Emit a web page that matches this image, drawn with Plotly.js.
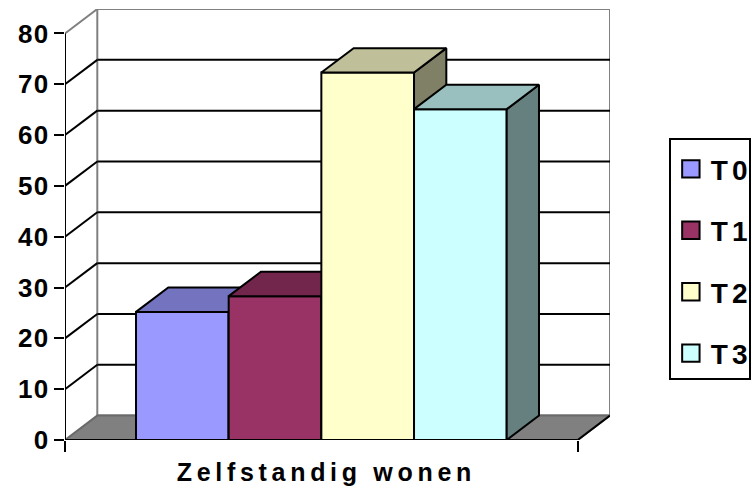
<!DOCTYPE html>
<html><head><meta charset="utf-8">
<script src="https://cdn.plot.ly/plotly-3.0.1.min.js"></script>
<style>
html,body{margin:0;padding:0;background:#fff}
#chart{width:751px;height:501px}
.legend .legendpoints path{transform-box:fill-box;transform-origin:center;transform:translate(20px,0) scale(1.45);vector-effect:non-scaling-stroke}
.legend text.legendtext{letter-spacing:4px}
.xtick text{letter-spacing:4.7px}
.ytick text{letter-spacing:1.5px}
</style></head><body><div id="chart"></div>
<script>
// ---- data ----
const categories = ['Zelfstandig wonen'];
const seriesNames = ['T0', 'T1', 'T2', 'T3'];
const values = [25.2, 28.3, 72.3, 65.1];
const yTickVals = [0, 10, 20, 30, 40, 50, 60, 70, 80];
const frontColors = ['#9999FF', '#993366', '#FFFFCC', '#CCFFFF'];
const topColors = ['#7373BF', '#73264C', '#BFBF99', '#99BFBF'];
const sideColors = ['#4D4D80', '#4D1A33', '#808066', '#668080'];

// ---- 3D geometry (in axis units) ----
const DX = 0.063, DY = 4.8;
const GROUP = 0.723, BW = GROUP / seriesNames.length;
const XR = [-0.5, 0.5 + DX], YMAX = yTickVals[yTickVals.length - 1];
const YR = [0, YMAX + DY];
const FONT = 'Liberation Sans, Arial, sans-serif';

const traces = [];
seriesNames.forEach((name, i) => {
  const xa = i === 0 ? 'x' : 'x' + (i + 1);
  const ya = i === 0 ? 'y' : 'y' + (i + 1);
  const x0 = -GROUP / 2 + i * BW, x1 = x0 + BW, v = values[i];
  traces.push({
    type: 'bar', name: name, legendgroup: name,
    x: [0], y: [v], width: [BW], offset: [x0],
    marker: {color: frontColors[i], line: {color: '#000', width: 2}},
    xaxis: xa, yaxis: ya, hoverinfo: 'name+y'
  });
  traces.push({
    type: 'scatter', mode: 'lines', showlegend: false, hoverinfo: 'skip',
    x: [x1, x1 + DX, x1 + DX, x1, x1], y: [v, v + DY, DY, 0, v],
    fill: 'toself', fillcolor: sideColors[i], line: {color: '#000', width: 2},
    xaxis: xa, yaxis: ya
  });
  traces.push({
    type: 'scatter', mode: 'lines', showlegend: false, hoverinfo: 'skip',
    x: [x0, x1, x1 + DX, x0 + DX, x0], y: [v, v, v + DY, v + DY, v],
    fill: 'toself', fillcolor: topColors[i], line: {color: '#000', width: 2},
    xaxis: xa, yaxis: ya
  });
});

const shapes = [];
// back wall
shapes.push({type: 'rect', xref: 'x', yref: 'y', layer: 'below',
  x0: XR[0] + DX, x1: XR[1], y0: DY, y1: YMAX + DY,
  fillcolor: '#fff', line: {color: '#808080', width: 2}});
// floor
shapes.push({type: 'path', xref: 'x', yref: 'y', layer: 'below',
  path: `M${XR[0]},0 L0.5,0 L${0.5 + DX},${DY} L${XR[0] + DX},${DY} Z`,
  fillcolor: '#808080', line: {color: '#6a6a6a', width: 2}});
shapes.push({type: 'line', xref: 'x', yref: 'y', layer: 'below',
  x0: 0.5, y0: 0, x1: 0.5 + DX, y1: DY, line: {color: '#000', width: 2}});
// top diagonal of side wall
shapes.push({type: 'line', xref: 'x', yref: 'y', layer: 'below',
  x0: XR[0], y0: YMAX, x1: XR[0] + DX, y1: YMAX + DY, line: {color: '#808080', width: 2}});
// gridlines
yTickVals.filter(v => v > 0 && v < YMAX).forEach(v => {
  shapes.push({type: 'line', xref: 'x', yref: 'y', layer: 'below',
    x0: XR[0], y0: v, x1: XR[0] + DX, y1: v + DY, line: {color: '#000', width: 2}});
  shapes.push({type: 'line', xref: 'x', yref: 'y', layer: 'below',
    x0: XR[0] + DX, y0: v + DY, x1: XR[1], y1: v + DY, line: {color: '#000', width: 2}});
});
// axis lines
shapes.push({type: 'line', xref: 'x', yref: 'y', layer: 'above',
  x0: XR[0], y0: 0, x1: XR[0], y1: YMAX, line: {color: '#000', width: 2}});
shapes.push({type: 'line', xref: 'x', yref: 'y', layer: 'above',
  x0: XR[0], y0: 0, x1: 0.5, y1: 0, line: {color: '#000', width: 2}});

const hidden = {range: XR, visible: false, fixedrange: true};
const layout = {
  width: 751, height: 501,
  margin: {l: 65, r: 141, t: 9, b: 61, pad: 0, autoexpand: false},
  paper_bgcolor: '#fff', plot_bgcolor: 'rgba(0,0,0,0)',
  font: {family: FONT, color: '#000'},
  showlegend: true,
  legend: {
    x: 1.108, xanchor: 'left', y: 0.70, yanchor: 'top',
    bgcolor: '#fff', bordercolor: '#000', borderwidth: 2,
    font: {family: FONT, size: 28, weight: 700, color: '#000'},
    title: {text: ' ', font: {size: 3}},
    traceorder: 'grouped', tracegroupgap: 22
  },
  xaxis: {
    range: XR, showgrid: false, zeroline: false, showline: false,
    tickvals: [0], ticktext: categories, ticks: '', ticklabelstandoff: 15,
    ticklabelshift: 5,
    tickfont: {family: FONT, size: 25, weight: 700, color: '#000'}
  },
  xaxis2: {range: XR, overlaying: 'x', anchor: 'y2', side: 'bottom',
    showgrid: false, zeroline: false, showline: false,
    tickvals: [-0.5, 0.5], ticks: 'outside', ticklen: 11, tickwidth: 2,
    tickcolor: '#000', showticklabels: false},
  xaxis3: Object.assign({overlaying: 'x', anchor: 'y3'}, hidden),
  xaxis4: Object.assign({overlaying: 'x', anchor: 'y4'}, hidden),
  yaxis: {
    range: YR, showgrid: false, zeroline: false, showline: false,
    tickvals: yTickVals, ticks: 'outside', ticklen: 10, tickwidth: 2, tickcolor: '#000',
    ticklabelstandoff: -1,
    tickfont: {family: FONT, size: 26, weight: 700, color: '#000'}
  },
  yaxis2: {range: YR, overlaying: 'y', anchor: 'x2', visible: false},
  yaxis3: {range: YR, overlaying: 'y', anchor: 'x3', visible: false},
  yaxis4: {range: YR, overlaying: 'y', anchor: 'x4', visible: false},
  shapes: shapes
};
Plotly.newPlot('chart', traces, layout, {displayModeBar: false, staticPlot: true});
</script></body></html>
